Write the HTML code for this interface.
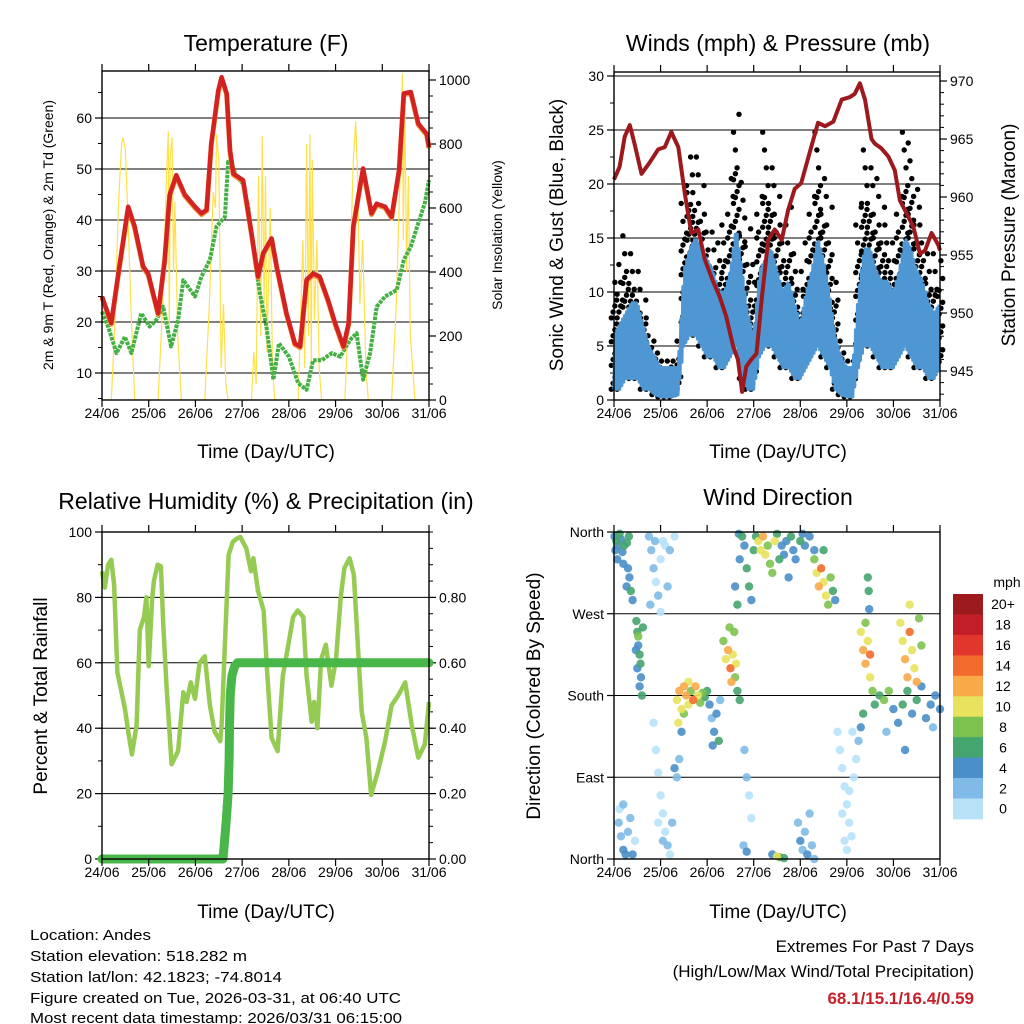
<!DOCTYPE html>
<html><head><meta charset="utf-8"><style>
html,body{margin:0;padding:0;background:#fff;}
svg{display:block;font-family:"Liberation Sans",sans-serif;}
</style></head><body>
<svg id="chart" width="1024" height="1024" viewBox="0 0 1024 1024" xmlns="http://www.w3.org/2000/svg">
<rect width="1024" height="1024" fill="#fff"/>
<g id="texts" font-family="Liberation Sans, sans-serif">
<text x="266" y="51" font-size="23" text-anchor="middle">Temperature (F)</text>
<text x="778" y="51" font-size="23" text-anchor="middle">Winds (mph) &amp; Pressure (mb)</text>
<text x="266" y="509" font-size="23" text-anchor="middle">Relative Humidity (%) &amp; Precipitation (in)</text>
<text x="778" y="505" font-size="23" text-anchor="middle">Wind Direction</text>
<text x="266" y="458" font-size="19" text-anchor="middle">Time (Day/UTC)</text>
<text x="778" y="458" font-size="19" text-anchor="middle">Time (Day/UTC)</text>
<text x="266" y="918" font-size="19" text-anchor="middle">Time (Day/UTC)</text>
<text x="778" y="918" font-size="19" text-anchor="middle">Time (Day/UTC)</text>
<text transform="translate(53,235) rotate(-90)" font-size="14" text-anchor="middle">2m &amp; 9m T (Red, Orange) &amp; 2m Td (Green)</text>
<text transform="translate(502,235) rotate(-90)" font-size="14" text-anchor="middle">Solar Insolation (Yellow)</text>
<text transform="translate(563,235) rotate(-90)" font-size="19" text-anchor="middle">Sonic Wind &amp; Gust (Blue, Black)</text>
<text transform="translate(1015,235) rotate(-90)" font-size="19" text-anchor="middle">Station Pressure (Maroon)</text>
<text transform="translate(47,696) rotate(-90)" font-size="19" text-anchor="middle">Percent &amp; Total Rainfall</text>
<text transform="translate(540,696) rotate(-90)" font-size="19" text-anchor="middle">Direction (Colored By Speed)</text>
<text x="30" y="940" font-size="15" textLength="121" lengthAdjust="spacingAndGlyphs">Location: Andes</text>
<text x="30" y="961" font-size="15" textLength="217" lengthAdjust="spacingAndGlyphs">Station elevation: 518.282 m</text>
<text x="30" y="982" font-size="15" textLength="252" lengthAdjust="spacingAndGlyphs">Station lat/lon: 42.1823; -74.8014</text>
<text x="30" y="1003" font-size="15" textLength="371" lengthAdjust="spacingAndGlyphs">Figure created on Tue, 2026-03-31, at 06:40 UTC</text>
<text x="30" y="1023" font-size="15" textLength="372" lengthAdjust="spacingAndGlyphs">Most recent data timestamp: 2026/03/31 06:15:00</text>
<text x="974" y="952" font-size="17" text-anchor="end">Extremes For Past 7 Days</text>
<text x="974" y="977" font-size="17" text-anchor="end">(High/Low/Max Wind/Total Precipitation)</text>
<text x="974" y="1004" font-size="17" font-weight="bold" fill="#c8202a" text-anchor="end">68.1/15.1/16.4/0.59</text>
<text x="1007" y="587" font-size="14" text-anchor="middle">mph</text>
</g>
</svg>
<script>
// ---------- data ----------
const dayLabels = ["24/06","25/06","26/06","27/06","28/06","29/06","30/06","31/06"];
const tempT = [0,0.2,0.34,0.56,0.7,0.88,0.99,1.2,1.34,1.45,1.59,1.77,1.99,2.13,2.24,2.34,2.49,2.56,2.67,2.74,2.81,3.02,3.2,3.34,3.45,3.63,3.74,3.95,4.13,4.24,4.38,4.52,4.66,4.84,4.99,5.17,5.28,5.38,5.52,5.59,5.77,5.88,6.06,6.2,6.36,6.46,6.61,6.77,6.95,7.0];
const tempV = [25,19.8,28.9,42.6,38.7,30.9,29.5,21.7,32,45,48.8,45,42.6,41.3,42,55,65.4,68,64.8,53.7,49.1,47.8,37.4,28.9,33.5,36.4,30.9,21.7,15.8,15.2,28.3,29.5,28.9,24.3,19.8,15.2,19.8,38.7,46.5,50.1,41.3,43.2,42.6,40.6,49.8,64.8,65.1,58.9,56.9,54.3];
const dewT = [0,0.13,0.31,0.49,0.63,0.84,1.02,1.16,1.31,1.48,1.63,1.74,1.84,1.99,2.13,2.31,2.45,2.63,2.7,2.77,2.88,3.02,3.13,3.27,3.38,3.52,3.67,3.79,4.0,4.2,4.38,4.52,4.7,4.92,5.1,5.31,5.45,5.59,5.74,5.88,6.06,6.31,6.46,6.61,6.77,6.91,7.0];
const dewV = [22,19.1,13.9,17.1,13.9,21.7,19.1,20.4,23,15.2,20.4,28.2,26.9,25,28.9,32.2,38.7,40.6,51.4,51.1,48.5,47.1,42.6,32.2,25.6,19.1,8.7,15.8,13.2,8,6.7,12.5,12.5,13.9,13.2,16.5,17.8,8.7,13.9,23,25,26.3,32.2,34.8,39.4,43.3,47.8];
const solarT = [0,0.2,0.28,0.35,0.42,0.45,0.5,0.56,0.63,0.7,1.2,1.3,1.38,1.42,1.44,1.46,1.5,1.53,1.56,1.62,1.7,2.2,2.3,2.38,2.43,2.45,2.5,2.55,2.6,2.65,2.7,3.2,3.25,3.3,3.35,3.4,3.43,3.47,3.5,3.53,3.6,3.65,3.7,4.2,4.3,4.34,4.38,4.42,4.45,4.48,4.5,4.55,4.6,4.65,4.7,5.2,5.3,5.38,5.43,5.47,5.52,5.58,5.65,5.7,6.2,6.3,6.38,6.43,6.45,6.48,6.52,6.56,6.6,6.7,7.0];
const solarV = [0,0,250,600,800,820,780,550,250,0,0,300,700,840,200,760,820,400,620,200,0,0,300,650,600,830,750,100,300,50,0,0,150,50,700,200,825,300,700,150,600,100,0,0,500,100,800,200,830,100,750,250,500,100,0,0,350,750,870,700,300,500,100,0,0,300,700,1020,500,950,400,700,200,0,0];
const pressT = [0,0.12,0.23,0.34,0.44,0.59,0.77,0.95,1.09,1.23,1.38,1.52,1.66,1.81,1.95,2.12,2.27,2.41,2.56,2.66,2.75,2.84,2.95,3.06,3.17,3.31,3.45,3.6,3.74,3.88,4.02,4.2,4.38,4.53,4.71,4.89,5.06,5.17,5.28,5.39,5.53,5.6,5.74,5.89,6.03,6.14,6.28,6.43,6.57,6.68,6.82,6.96,7.0];
const pressV = [961.5,962.6,965.2,966.2,964.6,962,963,964.1,964.3,965.6,964.3,960.3,956.9,957.2,954.6,952.8,951.4,949.7,947.1,946,943.2,945.4,946,946.5,951.1,956.3,957.2,956.3,958.9,960.7,961.2,963.8,966.4,966.1,966.5,968.4,968.6,968.9,969.8,968.4,965,964.6,964.2,963.5,962.3,959.7,958.6,957.4,955.1,955.4,956.9,955.9,955.4];
const windHi = [6,7,8,9,9,7,5,4, 3,3,3,3,12,14,15,14, 13,12,10,10,12,16,12,8, 6,12,13,14,12,10,11,9, 7,10,12,15,13,10,6,4, 3,3,10,14,14,12,11,11, 10,12,15,14,12,11,9,8, 9];
const windLo = [1,1,2,2,2,1,1,0.5, 0.3,0.3,0.3,0.5,5,6,6,5, 4,4,3,3,4,5,2,1, 1,4,5,5,4,3,3,2, 2,3,4,5,4,3,1,0.5, 0.3,0.3,3,5,5,4,3,3, 3,4,5,4,3,3,2,2, 3];
const gustHi = [12,14,16,15,13,10,8,6, 5,4,5,6,20,24,23,20, 18,16,15,17,22,28,21,16, 13,20,25,23,20,17,18,15, 12,15,20,26,22,18,12,6, 4,4,18,24,23,21,19,17, 16,20,26,25,20,17,15,14, 14];
const rhT = [0,0.06,0.13,0.2,0.26,0.33,0.49,0.56,0.64,0.74,0.81,0.9,0.95,1.0,1.07,1.11,1.19,1.26,1.31,1.38,1.49,1.63,1.74,1.81,1.9,1.99,2.09,2.2,2.31,2.41,2.53,2.56,2.71,2.8,2.89,2.96,3.09,3.19,3.24,3.34,3.46,3.54,3.63,3.76,3.87,3.97,4.09,4.19,4.31,4.38,4.49,4.54,4.61,4.69,4.79,4.91,5.01,5.11,5.19,5.3,5.39,5.56,5.66,5.76,5.91,6.06,6.2,6.34,6.49,6.63,6.77,6.91,7.0];
const rhV = [88,83,90,91.5,84,57,46,39,32,41,70,74,80,59,79,85,90,89.5,72,53,29,33,51,48,54,49,60,62,47,39,36,41,93,97,98,98.5,95,88,92,82,76,56,37,33,56,64,74,76,74,56,42,48,40,61,65.5,53,61,80,89,92,87,45,37,19.6,27,36,47,50,54,41,31,35,48,58,78];
const precipT = [0,2.59,2.62,2.66,2.7,2.72,2.73,2.745,2.78,2.84,2.9,7.0];
const precipV = [0,0,0.05,0.12,0.2,0.3,0.4,0.5,0.56,0.59,0.6,0.6];
const dirT = [0.01,0.03,0.05,0.07,0.09,0.12,0.15,0.18,0.2,0.22, 0.27,0.3,0.33,0.36,0.4,0.28,0.32, 0.48,0.5,0.52,0.55,0.5,0.58,0.55,0.6,0.52,0.57,0.62,0.47, 0.75,0.8,0.85,0.9,0.95,1.0,1.05,1.1,1.15,1.2,0.78,1.0,1.3,0.88, 0.1,0.15,0.2,0.25,0.3,0.35,0.4,0.45,0.12,0.2, 0.85,0.9,0.95,1.0,1.05,1.1,1.15,1.2,1.25,1.3,1.35,1.05,0.95,1.4,1.45, 1.35,1.4,1.45,1.5,1.55,1.6,1.65,1.7,1.75,1.8,1.85,1.9,1.95,2.0,1.5,1.6,1.38, 2.05,2.1,2.15,2.2,2.25,2.28,2.12, 2.35,2.4,2.45,2.5,2.52,2.55,2.6,2.65,2.7,2.58,2.48,2.62, 2.6,2.65,2.7,2.75,2.8,2.85,2.9,2.95,3.0,3.05,2.68, 3.1,3.15,3.2,3.25,3.3,3.35,3.4,3.45,3.5,3.55, 3.6,3.65,3.7,3.8,3.85,3.9,4.0,4.05,4.1,4.2,4.3,3.75, 4.3,4.35,4.4,4.45,4.5,4.55,4.6,4.65,4.7,4.75,4.5, 2.8,2.85,2.9,2.95,2.78,2.85, 3.5,3.55,3.65,3.4, 3.95,4.0,4.05,4.1,4.15,4.2,4.25,4.3, 4.8,4.85,4.9,4.95,5.0,5.05,5.1,5.15,5.2,5.25,4.9,5.0,5.05,5.12,4.95, 5.3,5.35,5.4,5.45,5.5,5.55,5.6,5.35,5.3,5.4,5.5, 5.7,5.8,5.9,6.0,6.1,6.2,6.3,6.4,6.5,6.6,6.7,6.8,6.9,7.0,5.85,6.25,6.85, 6.15,6.2,6.25,6.3,6.35,6.4,6.45,6.5,6.55,6.6,6.35, 5.45,5.47,5.48];
const dirV = [355,340,350,330,345,358,352,338,325,345, 300,320,310,295,285,348,355, 262,250,235,225,210,200,190,180,245,215,255,230, 355,340,320,305,290,330,350,345,300,340,280,272,355,350, 40,25,10,5,30,45,5,20,55,60, 150,120,95,70,50,30,15,5,40,100,90,20,40,110,140, 175,185,165,190,180,170,185,175,190,180,172,183,178,185,160,195,150, 170,155,140,160,130,175,125, 240,220,230,210,195,225,200,185,175,250,255,215, 300,280,330,355,345,320,300,285,340,355,358, 350,340,355,335,345,325,315,350,358,330, 345,335,350,355,340,330,350,358,345,355,340,310, 330,315,300,320,305,290,280,310,295,285,340, 120,90,70,45,15,8, 3,2,1,5, 40,20,10,30,5,50,15,0, 140,120,100,80,60,40,25,90,110,130,50,10,75,140,20, 250,230,215,240,200,185,170,160,145,260,225, 180,175,185,165,150,170,185,160,175,190,155,170,180,165,140,120,145, 260,240,220,200,250,230,210,195,265,235,280, 310,295,275];
const dirS = [4,5,6,4,5,6,5,4,4,6, 4,5,4,6,4,7,6, 6,7,5,6,4,5,4,6,8,7,6,4, 2,3,2,1,2,1,1,0,2,3,2,1,1,3, 2,3,4,4,2,3,4,1,1,2, 1,0,1,0,1,0,2,1,3,4,3,2,0,3,4, 11,12,10,13,12,11,9,14,12,10,9,8,7,6,8,10,10, 4,3,5,4,6,3,4, 8,10,12,15,13,11,9,7,6,8,9,10, 5,7,4,6,5,7,6,5,7,6,4, 10,11,12,10,9,8,9,10,7,6, 5,4,5,6,4,5,6,4,5,4,5,4, 9,10,12,14,11,10,9,8,6,5,7, 2,2,1,1,3,4, 10,7,6,5, 3,4,2,3,4,2,3,2, 0,1,0,1,0,1,0,0,1,2,0,1,0,1,0, 10,12,13,11,10,8,7,6,4,8,14, 7,9,8,4,5,6,7,5,6,4,5,4,5,4,3,4,3, 11,10,12,13,14,11,10,13,9,8,10, 6,7,4];
const speedBins = ["0","2","4","6","8","10","12","14","16","18","20+"];
const binColors = ["#b7e2f8","#7fbbe6","#4a8fc8","#45a56e","#7dc24f","#e8e25c","#f8aa48","#f26a2c","#e0362b","#c21e27","#9c1a1e"];

// ---------- helpers ----------
const NS = "http://www.w3.org/2000/svg";
const svg = document.getElementById("chart");
function mk(tag, parent){ const e = document.createElementNS(NS, tag); (parent||svg).appendChild(e); return e; }
function line(p, x1,y1,x2,y2, stroke, w){ const e = mk("line", p); e.setAttribute("x1",x1); e.setAttribute("y1",y1); e.setAttribute("x2",x2); e.setAttribute("y2",y2); e.setAttribute("stroke",stroke); e.setAttribute("stroke-width",w); return e; }
function txt(p, x,y,s,anchor,size){ const e = mk("text", p); e.setAttribute("x",x); e.setAttribute("y",y); e.setAttribute("text-anchor",anchor); e.setAttribute("font-size",size); e.textContent = s; return e; }
function pathFrom(xs, ys){ let d=""; for(let i=0;i<xs.length;i++){ d += (i?"L":"M")+xs[i].toFixed(1)+","+ys[i].toFixed(1); } return d; }

function panel(name, L, R, T, B){
  const g = mk("g");
  
  
  const xs = d => L + d*(R-L)/7;
  return {g, L, R, T, B, xs};
}
function timeAxis(P, labelY){
  for(let i=0;i<=7;i++){
    const x = P.xs(i);
    line(P.g, x, P.B, x, P.B+7, "#000", 1.2);
    line(P.g, x, P.T, x, P.T-7, "#000", 1.2);
    const t = txt(P.g, x, labelY, dayLabels[i], "middle", 14);
    
    
  }
}
function frame(P){
  const r = mk("rect", P.g); r.setAttribute("x",P.L); r.setAttribute("y",P.T); r.setAttribute("width",P.R-P.L); r.setAttribute("height",P.B-P.T);
  r.setAttribute("fill","none"); r.setAttribute("stroke","#000"); r.setAttribute("stroke-width",1.4);
  
  
}
function yAxis(P, side, vals, labels, minorVals, yf, grid){
  const x = side==="left" ? P.L : P.R;
  const dir = side==="left" ? -1 : 1;
  minorVals.forEach(v=>{ const y=yf(v); if(y>=P.T-0.5 && y<=P.B+0.5) line(P.g, x, y, x+dir*4, y, "#000", 1); });
  vals.forEach((v,i)=>{
    const y = yf(v);
    line(P.g, x, y, x+dir*7, y, "#000", 1.2);
    if(grid) line(P.g, P.L, y, P.R, y, "#000", 1);
    const t = txt(P.g, x+dir*10, y+5, labels[i], side==="left"?"end":"start", 14);
    
    
  });
}
function range(a,b,s){ const r=[]; for(let v=a; v<=b+1e-9; v+=s) r.push(+v.toFixed(4)); return r; }

// ---------- Panel 1: temperature ----------
{
  const P = panel("temperature-panel", 102, 429, 71, 400);
  const yT = v => 424 - v*5.1;
  const yS = v => 400 - v*0.32;
  const clip = mk("clipPath", P.g); clip.setAttribute("id","c1");
  const cr = mk("rect", clip); cr.setAttribute("x",P.L); cr.setAttribute("y",P.T); cr.setAttribute("width",P.R-P.L); cr.setAttribute("height",P.B-P.T);
  yAxis(P, "left", [10,20,30,40,50,60], ["10","20","30","40","50","60"], range(5,70,5), yT, true);
  yAxis(P, "right", [0,200,400,600,800,1000], ["0","200","400","600","800","1000"], range(0,1020,50), yS, false);
  const sol = mk("path", P.g);
  sol.setAttribute("d", pathFrom(solarT.map(P.xs), solarV.map(yS)));
  sol.setAttribute("fill","none"); sol.setAttribute("stroke","#ffe04a"); sol.setAttribute("stroke-width",1.2); sol.setAttribute("clip-path","url(#c1)");
  
  
  const dew = mk("path", P.g);
  dew.setAttribute("d", pathFrom(dewT.map(P.xs), dewV.map(yT)));
  dew.setAttribute("fill","none"); dew.setAttribute("stroke","#44b044"); dew.setAttribute("stroke-width",4); dew.setAttribute("stroke-dasharray","3.5 1"); dew.setAttribute("stroke-linejoin","round");
  
  
  const or = mk("path", P.g);
  or.setAttribute("d", pathFrom(tempT.map(P.xs), tempV.map(v=>yT(v)+1.2)));
  or.setAttribute("fill","none"); or.setAttribute("stroke","#f49a3a"); or.setAttribute("stroke-width",5); or.setAttribute("stroke-linejoin","round");
  
  
  const red = mk("path", P.g);
  red.setAttribute("d", pathFrom(tempT.map(P.xs), tempV.map(yT)));
  red.setAttribute("fill","none"); red.setAttribute("stroke","#d42222"); red.setAttribute("stroke-width",4.5); red.setAttribute("stroke-linejoin","round");
  
  
  frame(P); timeAxis(P, 418);
}

// ---------- Panel 2: winds & pressure ----------
{
  const P = panel("winds-panel", 614, 940, 72, 400);
  const yW = v => 400 - v*10.8;
  const yP = p => 139 + (965-p)*11.6;
  const windT = windHi.map((_,i)=>i*0.125);
  yAxis(P, "left", [0,5,10,15,20,25,30], ["0","5","10","15","20","25","30"], range(0,30,2.5), yW, true);
  yAxis(P, "right", [945,950,955,960,965,970], ["945","950","955","960","965","970"], range(943,970,1), yP, false);
  const dots = mk("g", P.g);
  
  
  for(let i=0;i<windT.length;i++){
    const lo = windLo[i], hi = gustHi[i];
    let k=0;
    for(let v=lo; v<=hi; v+=0.55, k++){
      const frac = (v-lo)/Math.max(hi-lo,1);
      if(frac>0.7 && k%3!==0) continue;
      const c = mk("circle", dots);
      c.setAttribute("cx", (P.xs(windT[i]) + ((k%4)-1.5)*1.8).toFixed(1));
      c.setAttribute("cy", yW(v).toFixed(1));
      c.setAttribute("r", 2.7);
      c.setAttribute("fill", "#000");
    }
  }
  // sonic wind: zig-zag between low and high within each interval
  const zx = [], zy = [];
  for(let i=0;i<windT.length-1;i++){
    for(let s=0;s<6;s++){
      const f = s/6;
      const t = windT[i] + f*0.125;
      const lo = windLo[i] + (windLo[i+1]-windLo[i])*f;
      const hi = windHi[i] + (windHi[i+1]-windHi[i])*f;
      zx.push(P.xs(t)); zy.push(yW(s%2===0 ? lo : hi));
    }
  }
  const band = mk("path", P.g);
  band.setAttribute("d", pathFrom(zx, zy));
  band.setAttribute("fill","none"); band.setAttribute("stroke","#4f97d2"); band.setAttribute("stroke-width",3.2); band.setAttribute("stroke-linejoin","round");
  
  
  const pr = mk("path", P.g);
  pr.setAttribute("d", pathFrom(pressT.map(P.xs), pressV.map(yP)));
  pr.setAttribute("fill","none"); pr.setAttribute("stroke","#9c1a1e"); pr.setAttribute("stroke-width",4); pr.setAttribute("stroke-linejoin","round");
  
  
  line(P.g, P.L, 76, P.R, 76, "#000", 1);
  frame(P); timeAxis(P, 418);
}

// ---------- Panel 3: RH & precip ----------
{
  const P = panel("humidity-panel", 102, 429, 532, 859);
  const yR = v => 859 - v*3.27;
  const yPr = v => 859 - v*327;
  yAxis(P, "left", [0,20,40,60,80,100], ["0","20","40","60","80","100"], range(0,100,10), yR, false);
  [20,40,60,80].forEach(v=>line(P.g, P.L, yR(v), P.R, yR(v), "#000", 1));
  yAxis(P, "right", [0,0.2,0.4,0.6,0.8], ["0.00","0.20","0.40","0.60","0.80"], range(0,1,0.05), yPr, false);
  const rh = mk("path", P.g);
  rh.setAttribute("d", pathFrom(rhT.map(P.xs), rhV.map(yR)));
  rh.setAttribute("fill","none"); rh.setAttribute("stroke","#95cb52"); rh.setAttribute("stroke-width",4.5); rh.setAttribute("stroke-linejoin","round");
  
  
  const pc = mk("path", P.g);
  pc.setAttribute("d", pathFrom(precipT.map(P.xs), precipV.map(yPr)));
  pc.setAttribute("fill","none"); pc.setAttribute("stroke","#49b649"); pc.setAttribute("stroke-width",9); pc.setAttribute("stroke-linejoin","round"); pc.setAttribute("stroke-linecap","round");
  
  
  frame(P); timeAxis(P, 877);
}

// ---------- Panel 4: wind direction ----------
{
  const P = panel("wind-direction-panel", 614, 940, 532, 859);
  const yD = d => 532 + (360-d)/360*327;
  yAxis(P, "left", [360,270,180,90,0], ["North","West","South","East","North"], [], yD, false);
  [270,180,90].forEach(v=>line(P.g, P.L, yD(v), P.R, yD(v), "#000", 1));
  const pts = mk("g", P.g);
  
  
  const order = dirS.map((s,i)=>i).sort((a,b)=>dirS[a]-dirS[b]);
  order.forEach(i=>{
    const c = mk("circle", pts);
    c.setAttribute("cx", P.xs(dirT[i]).toFixed(1));
    c.setAttribute("cy", yD(dirV[i]).toFixed(1));
    c.setAttribute("r", 4.2);
    c.setAttribute("fill", binColors[Math.min(10, Math.floor(dirS[i]/2))]);
    c.setAttribute("fill-opacity", 0.9);
  });
  frame(P); timeAxis(P, 877);
  // colorbar
  const cb = mk("g");
  
  
  const top = 594, h = 20.45;
  for(let k=0;k<11;k++){
    const idx = 10-k;
    const r = mk("rect", cb);
    r.setAttribute("x",953); r.setAttribute("y",(top+k*h).toFixed(1)); r.setAttribute("width",30); r.setAttribute("height",(h+0.5).toFixed(1));
    r.setAttribute("fill", binColors[idx]);
    
    
    const t = txt(cb, 1003, top+k*h+h/2+5, speedBins[idx], "middle", 14);
    
    
  }
}
</script>
</body></html>
